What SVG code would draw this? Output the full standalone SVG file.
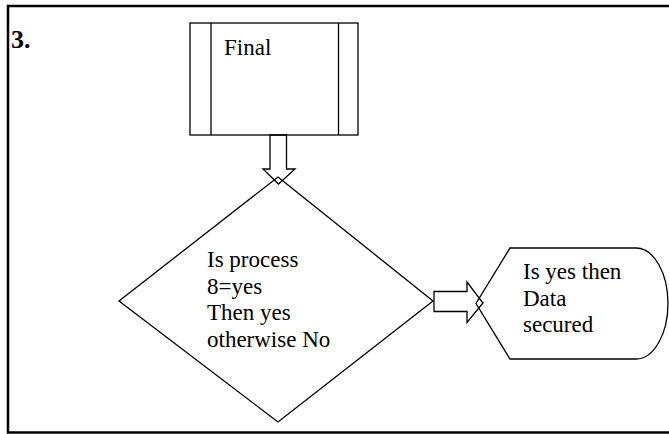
<svg xmlns="http://www.w3.org/2000/svg" width="669" height="434" viewBox="0 0 669 434">
<style>
.s{fill:#fff;stroke:#000;stroke-width:1.3;stroke-linejoin:miter}
.t{font-family:"Liberation Serif","Times New Roman",serif;font-size:23px;fill:#000}
</style>
<rect x="0" y="0" width="669" height="434" fill="#fff"/>
<path d="M680,6 H8 V432.5 H680" fill="none" stroke="#000" stroke-width="2.5"/>
<text x="11" y="48" font-family="Liberation Serif, Times New Roman, serif" font-size="26" font-weight="bold">3.</text>
<g id="final">
<rect class="s" x="190" y="23" width="168" height="112"/>
<line class="s" x1="211" y1="23" x2="211" y2="135"/>
<line class="s" x1="338.5" y1="23" x2="338.5" y2="135"/>
<text class="t" x="224" y="55">Final</text>
</g>
<g id="decision">
<polygon class="s" points="278,177 433,301 278,422 119,301"/>
<text class="t" x="207" y="267">Is process</text>
<text class="t" x="207" y="293.5">8=yes</text>
<text class="t" x="207" y="320">Then yes</text>
<text class="t" x="207" y="346.5">otherwise No</text>
</g>
<g id="display">
<path class="s" d="M510,248 H636 A32 55.5 0 0 1 636,359 H510 L476,303.5 Z"/>
<text class="t" x="523" y="279">Is yes then</text>
<text class="t" x="523" y="306">Data</text>
<text class="t" x="523" y="332">secured</text>
</g>
<g id="connectors">
<polygon fill="none" stroke="#000" stroke-width="1.3" points="270,135 270,169 263,169 278.5,184 295,169 286.5,169 286.5,135"/>
<polygon fill="none" stroke="#000" stroke-width="1.3" points="434,291.5 467,291.5 467,282 483,303 467,322.5 467,311.5 434,311.5"/>
</g>
</svg>
